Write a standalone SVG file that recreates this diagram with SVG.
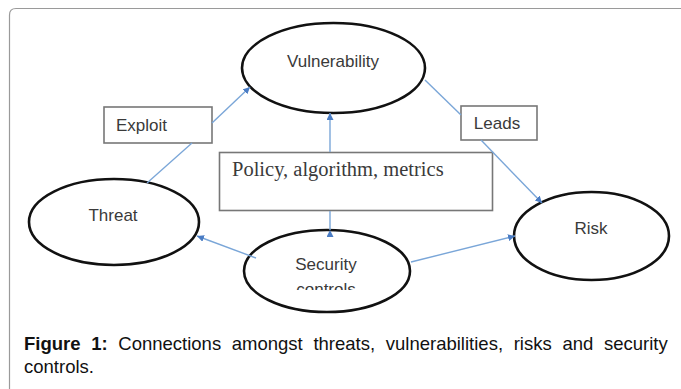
<svg xmlns="http://www.w3.org/2000/svg" width="681" height="389" viewBox="0 0 681 389">
  <style>
    .frame { fill: none; stroke: #9a9a9a; stroke-width: 1.2; }
    .concept { fill: #ffffff; stroke: #111111; stroke-width: 2.6; }
    .tag { fill: #ffffff; stroke: #777777; stroke-width: 1.6; }
    .link { fill: none; stroke: #7aa6d8; stroke-width: 1.4; }
    .label { font-family: "Liberation Sans", Arial, sans-serif; font-size: 17px; fill: #3a3a3a; text-anchor: middle; }
    .serif { font-family: "Liberation Serif", "Times New Roman", serif; font-size: 20.5px; fill: #3a3a3a; }
    .caption { font-family: "Liberation Sans", Arial, sans-serif; font-size: 18.5px; fill: #111111; }
    .caption .b { font-weight: bold; }
  </style>
  <defs>
    <marker id="tip" viewBox="0 0 10 10" refX="10" refY="5" markerWidth="7" markerHeight="7" markerUnits="userSpaceOnUse" orient="auto">
      <path d="M0,0 L10,5 L0,10 Z" fill="#4a7cc4"/>
    </marker>
    <clipPath id="sec-clip">
      <rect x="240" y="240" width="180" height="50"/>
    </clipPath>
  </defs>

  <!-- figure frame -->
  <path class="frame" d="M9.5,389 V15 Q9.5,8.5 16,8.5 H681"/>

  <!-- nodes -->
  <g id="vulnerability">
    <ellipse class="concept" cx="333.5" cy="68" rx="91.5" ry="45"/>
    <text class="label" x="333" y="67">Vulnerability</text>
  </g>

  <g id="exploit">
    <rect class="tag" x="104" y="107" width="108" height="36"/>
    <text class="label" x="141.5" y="131">Exploit</text>
  </g>

  <g id="leads">
    <rect class="tag" x="461" y="106" width="76" height="34"/>
    <text class="label" x="497" y="129">Leads</text>
  </g>

  <g id="policy">
    <rect class="tag" x="219.5" y="152.5" width="273" height="58"/>
    <text class="serif" x="232" y="176">Policy, algorithm, metrics</text>
  </g>

  <g id="threat">
    <ellipse class="concept" cx="114" cy="222" rx="85" ry="43"/>
    <text class="label" x="113" y="221">Threat</text>
  </g>

  <g id="security-controls">
    <ellipse class="concept" cx="327" cy="271" rx="83" ry="41"/>
    <g clip-path="url(#sec-clip)">
      <text class="label" x="326" y="270">Security</text>
      <text class="label" x="326" y="295">controls</text>
    </g>
  </g>

  <g id="risk">
    <ellipse class="concept" cx="591.5" cy="236" rx="77.5" ry="44"/>
    <text class="label" x="591" y="234">Risk</text>
  </g>

  <!-- connectors -->
  <g id="connectors">
    <line class="link" x1="147" y1="183" x2="192" y2="143"/>
    <line class="link" x1="212" y1="123" x2="250" y2="87" marker-end="url(#tip)"/>
    <line class="link" x1="425" y1="80" x2="461" y2="115"/>
    <line class="link" x1="481" y1="140" x2="542" y2="203" marker-end="url(#tip)"/>
    <line class="link" x1="330" y1="152" x2="330" y2="113" marker-end="url(#tip)"/>
    <line class="link" x1="330" y1="230" x2="330" y2="211" marker-start="url(#tip)"/>
    <line class="link" x1="256" y1="258" x2="197" y2="236" marker-end="url(#tip)"/>
    <line class="link" x1="411" y1="262" x2="515" y2="236" marker-end="url(#tip)"/>
  </g>

  <!-- caption, justified word by word -->
  <g id="caption" class="caption">
    <text y="350"><tspan class="b" x="24">Figure</tspan><tspan class="b" x="91.2">1:</tspan></text>
    <text y="350" x="118.3">Connections</text>
    <text y="350" x="231.8">amongst</text>
    <text y="350" x="313.4">threats,</text>
    <text y="350" x="385.8">vulnerabilities,</text>
    <text y="350" x="513.7">risks</text>
    <text y="350" x="562.4">and</text>
    <text y="350" x="604">security</text>
    <text y="373" x="24">controls.</text>
  </g>
</svg>
